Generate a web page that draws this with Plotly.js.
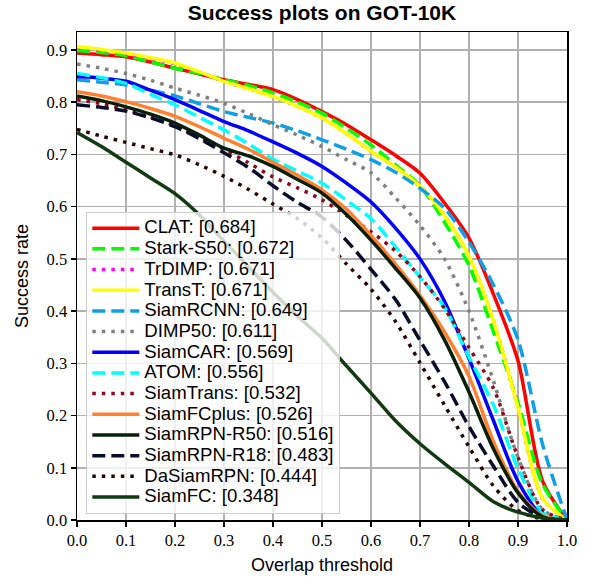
<!DOCTYPE html>
<html>
<head>
<meta charset="utf-8">
<script src="https://cdn.plot.ly/plotly-3.0.1.min.js"></script>
<style>html,body{margin:0;padding:0;background:#fff;}#chart{width:592px;height:577px;}</style>
</head>
<body>
<div id="chart"></div>
<script>
var thresholds = [0,0.05,0.1,0.15,0.2,0.25,0.3,0.35,0.4,0.45,0.5,0.55,0.6,0.65,0.7,0.75,0.8,0.85,0.9,0.95,1.0];

var trackerNames = ["CLAT","Stark-S50","TrDIMP","TransT","SiamRCNN","DIMP50","SiamCAR","ATOM","SiamTrans","SiamFCplus","SiamRPN-R50","SiamRPN-R18","DaSiamRPN","SiamFC"];
var aucScores = ["0.684","0.672","0.671","0.671","0.649","0.611","0.569","0.556","0.532","0.526","0.516","0.483","0.444","0.348"];

var CLAT       = [.894,.891,.887,.877,.865,.854,.843,.834,.824,.805,.782,.757,.728,.698,.664,.607,.540,.432,.305,.075,0];
var StarkS50   = [.899,.895,.889,.877,.865,.855,.843,.832,.818,.800,.779,.750,.718,.680,.640,.570,.487,.360,.225,.069,0];
var TrDIMP     = [.905,.900,.893,.884,.874,.857,.840,.826,.811,.792,.770,.740,.706,.676,.639,.583,.505,.381,.215,.042,0];
var TransT     = [.906,.901,.894,.885,.875,.858,.840,.826,.811,.792,.770,.740,.706,.676,.639,.583,.505,.381,.215,.042,0];
var SiamRCNN   = [.843,.838,.833,.823,.812,.797,.782,.771,.760,.745,.728,.710,.690,.666,.635,.597,.532,.450,.345,.145,0];
var DIMP50     = [.873,.865,.855,.842,.827,.813,.798,.778,.757,.737,.715,.690,.665,.617,.564,.500,.400,.266,.120,.020,0];
var SiamCAR    = [.849,.846,.840,.823,.805,.784,.763,.745,.724,.702,.677,.645,.609,.559,.500,.419,.309,.190,.074,.008,0];
var ATOM       = [.855,.847,.836,.815,.795,.771,.747,.720,.691,.668,.645,.612,.577,.523,.465,.407,.312,.220,.099,.015,0];
var SiamTrans  = [.805,.797,.785,.771,.755,.733,.710,.684,.657,.636,.613,.583,.552,.515,.466,.405,.330,.252,.120,.020,0];
var SiamFCplus = [.820,.812,.801,.788,.773,.753,.731,.710,.685,.660,.632,.595,.545,.490,.430,.360,.275,.150,.055,.008,0];
var SiamRPNR50 = [.812,.803,.791,.777,.760,.737,.712,.697,.677,.652,.626,.585,.536,.482,.425,.345,.245,.136,.052,.006,0];
var SiamRPNR18 = [.795,.790,.783,.770,.753,.730,.703,.675,.640,.608,.580,.535,.480,.422,.344,.265,.179,.103,.034,.004,0];
var DaSiamRPN  = [.748,.735,.723,.711,.699,.680,.658,.633,.605,.577,.540,.490,.442,.380,.301,.220,.140,.065,.018,.002,0];
var SiamFC     = [.742,.715,.685,.655,.625,.584,.534,.485,.436,.390,.348,.295,.243,.190,.146,.108,.072,.035,.015,.004,0];

var seriesValues = [CLAT,StarkS50,TrDIMP,TransT,SiamRCNN,DIMP50,SiamCAR,ATOM,SiamTrans,SiamFCplus,SiamRPNR50,SiamRPNR18,DaSiamRPN,SiamFC];
var lineColors = ["#ff0000","#00ff00","#ff00ff","#ffff00","#0ea0e6","#808080","#0000ff","#00ffff","#8b0a1e","#ff8030","#0a1f0a","#0a0a2a","#2a0505","#123a10"];
var lineDashes = ["solid","13px,6px","3.5px,6px","solid","13px,6px","3.5px,6px","solid","13px,6px","3.5px,6px","solid","solid","13px,6px","3.5px,6px","solid"];

var traces = trackerNames.map(function(name, i){
  return {
    x: thresholds,
    y: seriesValues[i],
    type: 'scatter',
    mode: 'lines',
    name: '<span style="font-size:18.6px">' + name + ': [' + aucScores[i] + ']</span>',
    line: {color: lineColors[i], width: 3.5, dash: lineDashes[i], shape: 'spline', smoothing: 0.8}
  };
});

var axisCommon = {
  showline: true, mirror: true, linecolor: '#000', linewidth: 1.5,
  ticks: 'outside', ticklen: 5, tickwidth: 1.5, tickcolor: '#000',
  showgrid: true, gridcolor: '#b0b0b0', gridwidth: 1.5,
  zeroline: false, dtick: 0.1, tick0: 0, tickformat: '.1f',
  tickfont: {family: 'Liberation Serif', size: 16.5, color: '#000'}
};

var layout = {
  width: 592, height: 577,
  margin: {l: 77, r: 25, t: 32, b: 57},
  paper_bgcolor: '#fff', plot_bgcolor: '#fff',
  title: {text: '<b>Success plots on GOT-10K</b>', x: 0.5, xref: 'paper', y: 0.978, yref: 'container', yanchor: 'middle',
          font: {family: 'Liberation Sans, Arial, sans-serif', size: 21, color: '#000'}},
  xaxis: Object.assign({}, axisCommon, {range: [0, 1],
          title: {text: 'Overlap threshold', standoff: 9, font: {family: 'Liberation Sans, Arial, sans-serif', size: 18, color: '#000'}}}),
  yaxis: Object.assign({}, axisCommon, {range: [0, 0.9344],
          title: {text: 'Success rate', standoff: 13, font: {family: 'Liberation Sans, Arial, sans-serif', size: 18, color: '#000'}}}),
  showlegend: true,
  legend: {x: 0.019, y: 0.6315, xanchor: 'left', yanchor: 'top',
           bgcolor: 'rgba(255,255,255,0.8)', bordercolor: '#cccccc', borderwidth: 1,
           itemwidth: 47, tracegroupgap: 0,
           font: {family: 'Liberation Sans, Arial, sans-serif', size: 13.6, color: '#000'}}
};

Plotly.newPlot('chart', traces, layout, {displayModeBar: false, staticPlot: true});
</script>
</body>
</html>
